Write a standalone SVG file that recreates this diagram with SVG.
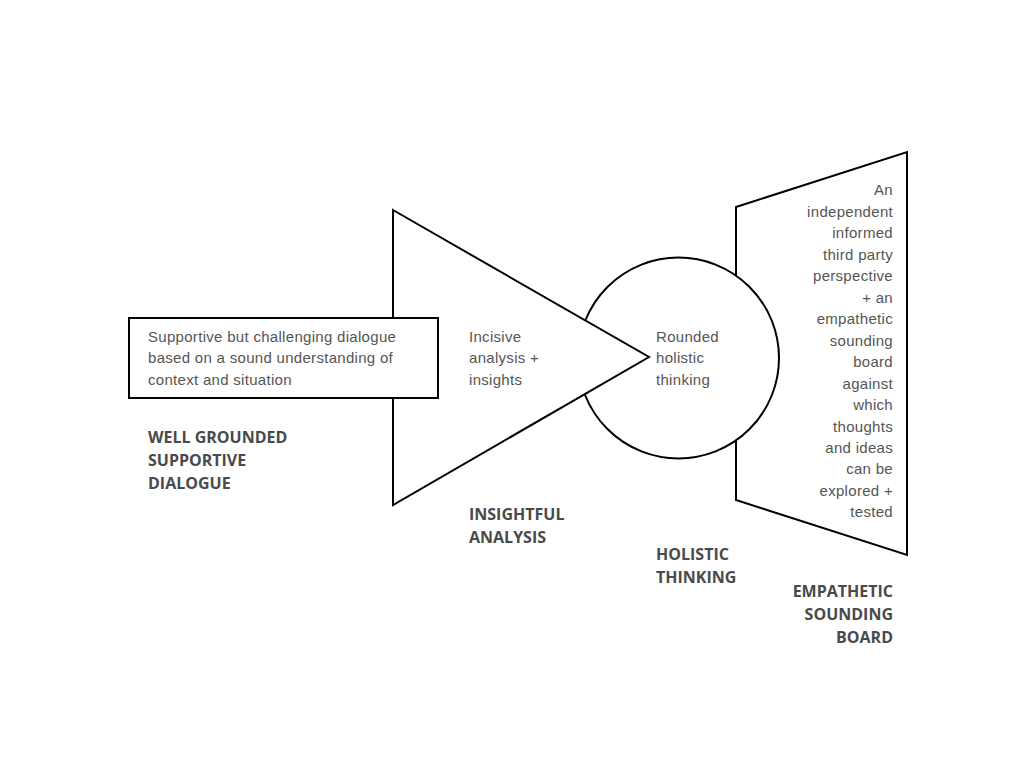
<svg xmlns="http://www.w3.org/2000/svg" width="1024" height="768" viewBox="0 0 1024 768">
<style>
.shape{fill:#fff;stroke:#000;stroke-width:2}
.body{font-family:"Liberation Sans",Arial,sans-serif;font-size:15px;letter-spacing:0.3px;fill:#555}
.head{font-family:"Open Sans","Liberation Sans",sans-serif;font-size:16px;font-weight:bold;fill:#4a4a4a}
.r{text-anchor:end}
</style>
<rect width="1024" height="768" fill="#fff"/>
<g id="connectors"></g>
<g id="sounding-board">
<polygon class="shape" points="736,207 907,152 907,555 736,500"/>
<text class="body r"><tspan x="893" y="195">An</tspan><tspan x="893" y="217">independent</tspan><tspan x="893" y="238">informed</tspan><tspan x="893" y="260">third party</tspan><tspan x="893" y="281">perspective</tspan><tspan x="893" y="303">+ an</tspan><tspan x="893" y="324">empathetic</tspan><tspan x="893" y="346">sounding</tspan><tspan x="893" y="367">board</tspan><tspan x="893" y="389">against</tspan><tspan x="893" y="410">which</tspan><tspan x="893" y="432">thoughts</tspan><tspan x="893" y="453">and ideas</tspan><tspan x="893" y="474">can be</tspan><tspan x="893" y="496">explored +</tspan><tspan x="893" y="517">tested</tspan></text>
<text class="head r"><tspan x="893" y="597">EMPATHETIC</tspan><tspan x="893" y="620">SOUNDING</tspan><tspan x="893" y="643">BOARD</tspan></text>
</g>
<g id="holistic-thinking">
<circle class="shape" cx="678.5" cy="358" r="100.5"/>
<text class="body"><tspan x="656" y="342">Rounded</tspan><tspan x="656" y="363">holistic</tspan><tspan x="656" y="385">thinking</tspan></text>
<text class="head"><tspan x="656" y="560">HOLISTIC</tspan><tspan x="656" y="583">THINKING</tspan></text>
</g>
<g id="insightful-analysis">
<polygon class="shape" points="393,210 649,357 393,505"/>
<text class="body"><tspan x="469" y="342">Incisive</tspan><tspan x="469" y="363">analysis +</tspan><tspan x="469" y="385">insights</tspan></text>
<text class="head"><tspan x="469" y="520">INSIGHTFUL</tspan><tspan x="469" y="543">ANALYSIS</tspan></text>
</g>
<g id="supportive-dialogue">
<rect class="shape" x="129" y="318" width="309" height="80"/>
<text class="body"><tspan x="148" y="342">Supportive but challenging dialogue</tspan><tspan x="148" y="363">based on a sound understanding of</tspan><tspan x="148" y="385">context and situation</tspan></text>
<text class="head"><tspan x="148" y="443">WELL GROUNDED</tspan><tspan x="148" y="466">SUPPORTIVE</tspan><tspan x="148" y="489">DIALOGUE</tspan></text>
</g>
</svg>
